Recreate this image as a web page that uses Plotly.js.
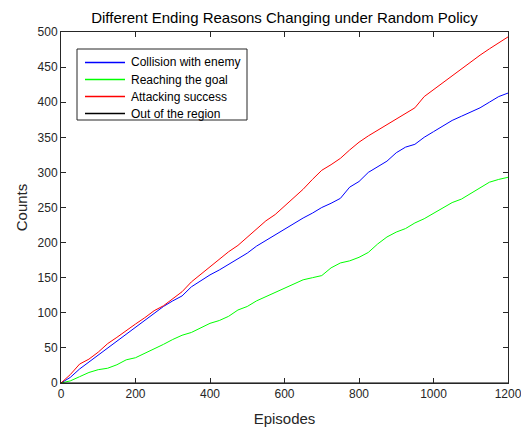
<!DOCTYPE html>
<html>
<head>
<meta charset="utf-8">
<script src="https://cdn.plot.ly/plotly-3.0.1.min.js"></script>
<style>
  html, body { margin: 0; padding: 0; background: #fff; }
  #chart { width: 521px; height: 427px; }
</style>
</head>
<body>
<div id="chart"></div>
<script>
// Episode checkpoints
const episodes = [0, 25, 50, 75, 100, 125, 150, 175, 200, 225, 250, 275, 300, 325, 350, 375,
  400, 425, 450, 475, 500, 525, 550, 575, 600, 625, 650, 675, 700, 725, 750, 775,
  800, 825, 850, 875, 900, 925, 950, 975, 1000, 1025, 1050, 1075, 1100, 1125, 1150, 1175, 1200];

// Cumulative counts of each ending reason
const collisionWithEnemy = [0, 8, 20, 30, 40, 50, 60, 70, 79, 89, 99, 109, 117, 124, 137, 146,
  154, 161, 169, 177, 185, 195, 203, 212, 220, 227, 235, 242, 250, 256, 263, 279,
  287, 300, 308, 316, 328, 336, 340, 350, 358, 366, 374, 380, 386, 392, 400, 408, 413];

const reachingTheGoal = [0, 3, 9, 15, 19, 21, 26, 33, 36, 42, 48, 55, 62, 68, 72, 78,
  85, 89, 95, 104, 109, 117, 123, 129, 136, 142, 147, 150, 153, 164, 171, 174,
  179, 186, 198, 208, 215, 220, 228, 234, 242, 249, 257, 262, 270, 279, 286, 290, 293];

const attackingSuccess = [0, 12, 27, 34, 44, 56, 65, 75, 84, 93, 103, 110, 120, 130, 144, 155,
  166, 176, 187, 196, 208, 220, 231, 240, 252, 264, 276, 290, 303, 311, 320, 332,
  343, 352, 360, 368, 376, 384, 392, 408, 418, 428, 438, 448, 458, 467, 476, 485, 493];

const outOfTheRegion = [0, 0, 0, 0, 0, 0, 0, 0, 0, 0, 0, 0, 0, 0, 0, 0,
  0, 0, 0, 0, 0, 0, 0, 0, 0, 0, 0, 0, 0, 0, 0, 0,
  0, 0, 0, 0, 0, 0, 0, 0, 0, 0, 0, 0, 0, 0, 0, 0, 0];

const seriesNames = ['Collision with enemy', 'Reaching the goal', 'Attacking success', 'Out of the region'];
const seriesValues = [collisionWithEnemy, reachingTheGoal, attackingSuccess, outOfTheRegion];
const seriesColors = ['#0000ff', '#00ff00', '#ff0000', '#000000'];

const xTicks = [0, 200, 400, 600, 800, 1000, 1200];
const yTicks = [0, 50, 100, 150, 200, 250, 300, 350, 400, 450, 500];

const FONT = 'Liberation Sans, Arial, Helvetica, sans-serif';

const W = 521, H = 427;
const M = { l: 61, r: 13, t: 32, b: 44 };
const plotW = W - M.l - M.r, plotH = H - M.t - M.b;
// pixel position inside the figure -> paper fraction
const px = v => (v - M.l) / plotW;
const py = v => (H - M.b - v) / plotH;

const traces = seriesNames.map((name, i) => ({
  x: episodes,
  y: seriesValues[i],
  name: name,
  type: 'scatter',
  mode: 'lines',
  line: { color: seriesColors[i], width: 1 },
  cliponaxis: false,
  showlegend: false
}));

// Compact boxed legend in the upper-left corner
const legendBox = { x0: 77, x1: 247, y0: 49, y1: 120 };
const rowY = [62.5, 79.5, 96.5, 113.5];
const shapes = [{
  type: 'rect', xref: 'paper', yref: 'paper',
  x0: px(legendBox.x0), x1: px(legendBox.x1), y0: py(legendBox.y1), y1: py(legendBox.y0),
  line: { color: '#262626', width: 1 }, fillcolor: '#ffffff', layer: 'above'
}];
const annotations = [];
seriesNames.forEach((name, i) => {
  shapes.push({
    type: 'line', xref: 'paper', yref: 'paper',
    x0: px(85), x1: px(125), y0: py(rowY[i]), y1: py(rowY[i]),
    line: { color: seriesColors[i], width: 1.3 }, layer: 'above'
  });
  annotations.push({
    xref: 'paper', yref: 'paper', x: px(129), y: py(rowY[i]),
    xanchor: 'left', yanchor: 'middle', showarrow: false,
    text: name, font: { family: FONT, size: 12, color: '#000000' }
  });
});

const axisCommon = {
  showline: true,
  linecolor: '#262626',
  linewidth: 1,
  mirror: 'ticks',
  ticks: 'inside',
  ticklen: 5,
  tickwidth: 1,
  tickcolor: '#262626',
  showgrid: false,
  zeroline: false,
  ticklabeloverflow: 'allow',
  tickfont: { family: FONT, size: 12, color: '#262626' }
};

const layout = {
  width: W,
  height: H,
  margin: M,
  paper_bgcolor: '#ffffff',
  plot_bgcolor: '#ffffff',
  font: { family: FONT, color: '#262626' },
  title: {
    text: 'Different Ending Reasons Changing under Random Policy',
    font: { family: FONT, size: 15, color: '#000000' },
    xref: 'paper', x: 0.5, xanchor: 'center',
    yref: 'container', y: 0.958, yanchor: 'middle'
  },
  xaxis: Object.assign({}, axisCommon, {
    range: [0, 1200],
    tickvals: xTicks,
    ticktext: xTicks.map(String),
    title: { text: 'Episodes', font: { family: FONT, size: 15, color: '#262626' }, standoff: 14 }
  }),
  yaxis: Object.assign({}, axisCommon, {
    range: [0, 500],
    tickvals: yTicks,
    ticktext: yTicks.map(String),
    title: { text: 'Counts', font: { family: FONT, size: 15, color: '#262626' }, standoff: 6 }
  }),
  shapes: shapes,
  annotations: annotations,
  showlegend: false
};

Plotly.newPlot('chart', traces, layout, { displayModeBar: false, staticPlot: true });
</script>
</body>
</html>
